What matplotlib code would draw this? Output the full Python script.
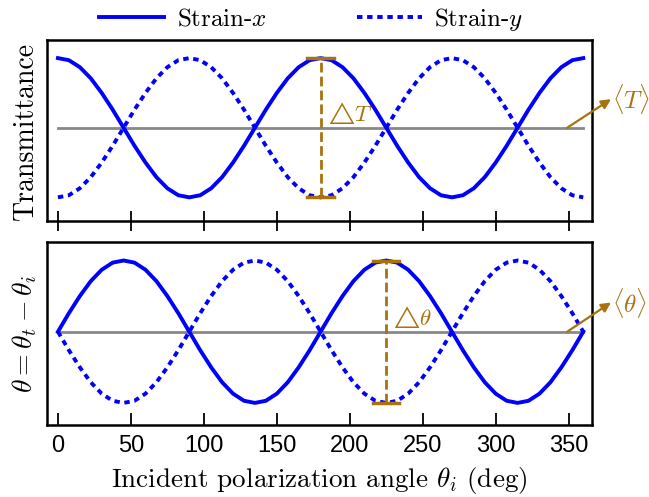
import numpy as np
import matplotlib
matplotlib.use("Agg")
import matplotlib.pyplot as plt

plt.rcParams['mathtext.fontset'] = 'cm'

# angulo de polarizacion incidente (deg), cada 7.5
angulo = np.arange(0, 360.1, 7.5)

# transmitancia (normalizada) para cada deformacion
trans_x = [1.00, 0.97, 0.87, 0.71, 0.50, 0.26, 0.00, -0.26, -0.50, -0.71, -0.87, -0.97,
           -1.00, -0.97, -0.87, -0.71, -0.50, -0.26, 0.00, 0.26, 0.50, 0.71, 0.87, 0.97,
           1.00, 0.97, 0.87, 0.71, 0.50, 0.26, 0.00, -0.26, -0.50, -0.71, -0.87, -0.97,
           -1.00, -0.97, -0.87, -0.71, -0.50, -0.26, 0.00, 0.26, 0.50, 0.71, 0.87, 0.97,
           1.00]
trans_y = [-1.00, -0.97, -0.87, -0.71, -0.50, -0.26, 0.00, 0.26, 0.50, 0.71, 0.87, 0.97,
           1.00, 0.97, 0.87, 0.71, 0.50, 0.26, 0.00, -0.26, -0.50, -0.71, -0.87, -0.97,
           -1.00, -0.97, -0.87, -0.71, -0.50, -0.26, 0.00, 0.26, 0.50, 0.71, 0.87, 0.97,
           1.00, 0.97, 0.87, 0.71, 0.50, 0.26, 0.00, -0.26, -0.50, -0.71, -0.87, -0.97,
           -1.00]

# desplazamiento theta_t - theta_i (normalizado)
theta_x = [0.00, 0.26, 0.50, 0.71, 0.87, 0.97, 1.00, 0.97, 0.87, 0.71, 0.50, 0.26,
           0.00, -0.26, -0.50, -0.71, -0.87, -0.97, -1.00, -0.97, -0.87, -0.71, -0.50, -0.26,
           0.00, 0.26, 0.50, 0.71, 0.87, 0.97, 1.00, 0.97, 0.87, 0.71, 0.50, 0.26,
           0.00, -0.26, -0.50, -0.71, -0.87, -0.97, -1.00, -0.97, -0.87, -0.71, -0.50, -0.26,
           0.00]
theta_y = [0.00, -0.26, -0.50, -0.71, -0.87, -0.97, -1.00, -0.97, -0.87, -0.71, -0.50, -0.26,
           0.00, 0.26, 0.50, 0.71, 0.87, 0.97, 1.00, 0.97, 0.87, 0.71, 0.50, 0.26,
           0.00, -0.26, -0.50, -0.71, -0.87, -0.97, -1.00, -0.97, -0.87, -0.71, -0.50, -0.26,
           0.00, 0.26, 0.50, 0.71, 0.87, 0.97, 1.00, 0.97, 0.87, 0.71, 0.50, 0.26,
           0.00]

t_medio = 0.0
theta_medio = 0.0
x_delta_t = 180
x_delta_theta = 225

xticks = [0, 50, 100, 150, 200, 250, 300, 350]

azul = '#0000ff'
cafe = '#a8730f'
gris = '#888888'
cm = 'cmr10'

fig = plt.figure(figsize=(6.49, 4.97), dpi=100)
ax1 = fig.add_axes([0.0724, 0.5553, 0.8398, 0.3642])
ax2 = fig.add_axes([0.0724, 0.1449, 0.8398, 0.3682])

paneles = [
    (ax1, trans_x, trans_y, t_medio, x_delta_t, r'$\triangle\!T$', r'$\langle T\rangle$', (-1.34, 1.26)),
    (ax2, theta_x, theta_y, theta_medio, x_delta_theta, r'$\triangle\!\theta$', r'$\langle \theta\rangle$', (-1.31, 1.26)),
]

for ax, sx, sy, medio, xd, etiqueta, etiqueta_media, ylim in paneles:
    ax.plot(angulo, sx, color=azul, lw=2.8, label='Strain-$x$', zorder=3)
    ax.plot(angulo, sy, color=azul, lw=2.8, linestyle=(0, (1.4, 1.2)), label='Strain-$y$', zorder=3)
    ax.plot([angulo[0], angulo[-1]], [medio, medio], color=gris, lw=2, zorder=2)

    # barra de amplitud
    ymax = max(sx)
    ymin = min(sx)
    ax.plot([xd, xd], [ymin, ymax], color=cafe, lw=2, linestyle=(0, (3.5, 1.5)), zorder=4)
    ax.plot([xd - 9, xd + 9], [ymax, ymax], color=cafe, lw=2.5, zorder=4)
    ax.plot([xd - 9, xd + 9], [ymin, ymin], color=cafe, lw=2.5, zorder=4)
    ax.text(xd + 2, medio + 0.21, etiqueta, color=cafe, fontsize=16.5, va='center', ha='left')

    # flecha al valor medio
    ax.annotate('', xy=(379, medio + 0.41), xytext=(349, medio),
                arrowprops=dict(arrowstyle='-|>', color=cafe, lw=1.6, mutation_scale=14,
                                shrinkA=0, shrinkB=0),
                annotation_clip=False)
    ax.text(379.5, medio + 0.41, etiqueta_media, color=cafe, fontsize=18, va='center', ha='left')

    ax.set_xlim(-7.5, 366)
    ax.set_ylim(*ylim)
    ax.set_yticks([])
    ax.set_xticks(xticks)
    for s in ax.spines.values():
        s.set_linewidth(1.8)

ax1.tick_params(axis='x', direction='inout', length=15, width=1.3, labelbottom=False)
ax2.tick_params(axis='x', direction='in', length=8.5, width=1.3, labelsize=17, pad=7)
for lab in ax2.get_xticklabels():
    lab.set_fontfamily('Liberation Sans')

ax1.set_ylabel('Transmittance', fontsize=20, family=cm, labelpad=6)
ax2.set_ylabel(r'$\theta=\theta_t-\theta_i$', fontsize=20, labelpad=6)
ax2.set_xlabel(r'Incident polarization angle $\theta_i$ (deg)', fontsize=19.5, family=cm, labelpad=6)

ax1.legend(loc='lower center', bbox_to_anchor=(0.485, 0.985), ncol=2, frameon=False,
           prop=dict(family=cm, size=18), handlelength=2.6, columnspacing=3.6,
           borderaxespad=0.0, handletextpad=0.5)

fig.savefig('out.png', dpi=100)
